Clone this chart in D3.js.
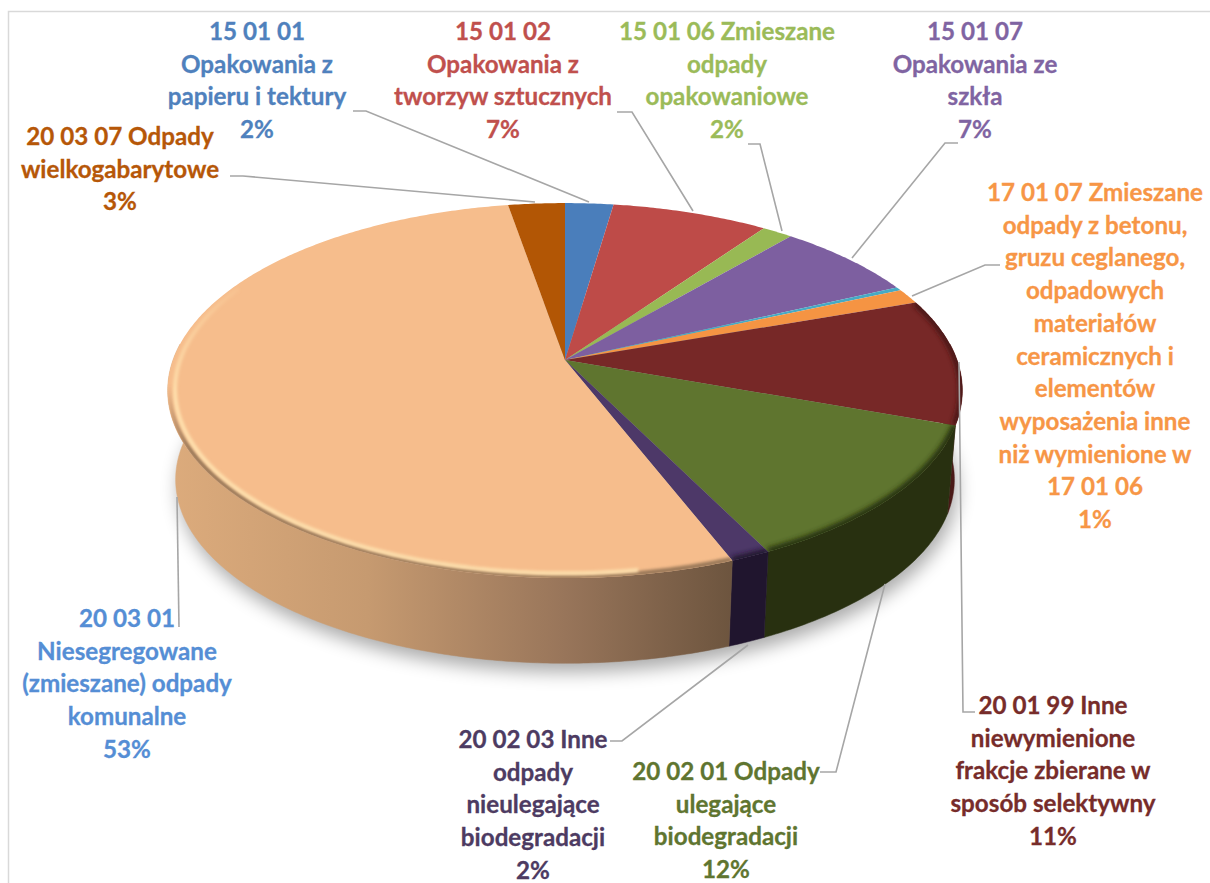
<!DOCTYPE html>
<html><head><meta charset="utf-8">
<script src="https://cdn.jsdelivr.net/npm/d3@7/dist/d3.min.js"></script>
<style>html,body{margin:0;padding:0;background:#fff}svg{display:block}</style>
</head><body><svg id="c" width="1210" height="883"></svg>
<script>
// Data
const codes = ["15 01 01","15 01 02","15 01 06","15 01 07","15 01 08","17 01 07","20 01 99","20 02 01","20 02 03","20 03 01","20 03 07"];
const shares = [2.3,7.45,1.46,6.8,0.3,1.3,10.9,12.2,1.4,53.2,2.7];
const topColors = ["#4a7ebb","#be4b48","#98b954","#7d5fa0","#46aac4","#f59443","#772827","#5f752f","#4d3868","#f6bd8c","#b25605"];
const wallColors = ["#2c4a70","#71302e","#5a6f31","#4a3860","#2a6575","#8f5627","#4a1917","#283010","#20152e","url(#tanWall)","#6a3303"];

// Label texts
const labelLines = [
 ["15 01 01","Opakowania z","papieru i tektury","2%"],
 ["15 01 02","Opakowania z","tworzyw sztucznych","7%"],
 ["15 01 06 Zmieszane","odpady","opakowaniowe","2%"],
 ["15 01 07","Opakowania ze","szkła","7%"],
 ["17 01 07 Zmieszane","odpady z betonu,","gruzu ceglanego,","odpadowych","materiałów","ceramicznych i","elementów","wyposażenia inne","niż wymienione w","17 01 06","1%"],
 ["20 01 99 Inne","niewymienione","frakcje zbierane w","sposób selektywny","11%"],
 ["20 02 01 Odpady","ulegające","biodegradacji","12%"],
 ["20 02 03 Inne","odpady","nieulegające","biodegradacji","2%"],
 ["20 03 01","Niesegregowane","(zmieszane) odpady","komunalne","53%"],
 ["20 03 07 Odpady","wielkogabarytowe","3%"]
];
const labelColors = ["#4f81bd","#c0504d","#9bbb59","#8064a2","#f79646","#772c2a","#5f7530","#4d3b62","#558ed5","#b65708"];

// Layout (not data)
const labelX = [257,503,727,975,1095,1053,726,533,127,120];
const labelY = [40,40,40,40,201,714,780,748,627,145];
const lineH = 32.7;
const leaders = [
 [[353,111],[366,111],[589,202]],
 [[617,112],[632,112],[693,211]],
 [[748,144],[760,144],[782,231]],
 [[958,143],[945,143],[852,258]],
 [[1000,265],[985,265],[912,296]],
 [[975,712],[963,712],[959,362]],
 [[820,772],[836,772],[885,584]],
 [[610,741],[622,741],[748,645]],
 [[179,627],[177,497]],
 [[230,176],[243,176],[535,202]]
];
const G = {cx:565, cy:360, rx:392, ry:182.5, k:0.163, depth:89, shrink:0.98, midY:390};

const svg = d3.select("#c");
const defs = svg.append("defs");
const grad = defs.append("linearGradient").attr("id","tanWall").attr("gradientUnits","userSpaceOnUse")
  .attr("x1",170).attr("x2",735).attr("y1",0).attr("y2",0);
[[0,"#dcab7c"],[0.35,"#c69a70"],[0.7,"#98755a"],[1,"#6c543e"]].forEach(s=>grad.append("stop").attr("offset",s[0]).attr("stop-color",s[1]));
const fade = defs.append("linearGradient").attr("id","hiFade").attr("gradientUnits","userSpaceOnUse")
  .attr("x1",0).attr("x2",0).attr("y1",270).attr("y2",400);
[[0,"#ffe1ae",0],[1,"#ffe1ae",1]].forEach(s=>fade.append("stop").attr("offset",s[0]).attr("stop-color",s[1]).attr("stop-opacity",s[2]));
const fadeDark = defs.append("linearGradient").attr("id","loFade").attr("gradientUnits","userSpaceOnUse")
  .attr("x1",0).attr("x2",0).attr("y1",385).attr("y2",450);
[[0,"#9a7858",0],[1,"#9a7858",1]].forEach(s=>fadeDark.append("stop").attr("offset",s[0]).attr("stop-color",s[1]).attr("stop-opacity",s[2]));
[["b1",1.5],["b2",2.5],["b3",9]].forEach(([id,s])=>defs.append("filter").attr("id",id)
  .attr("filterUnits","userSpaceOnUse").attr("x",0).attr("y",0).attr("width",1210).attr("height",883)
  .append("feGaussianBlur").attr("stdDeviation",s));

svg.append("rect").attr("x",8.5).attr("y",11.5).attr("width",1300).attr("height",1000)
  .attr("fill","#fff").attr("stroke","#d9d9d9").attr("stroke-width",1.5);

function rim(a,r=1){
  const u=r*Math.sin(a), v=-r*Math.cos(a), s=1/(1-G.k*v);
  return [G.cx+G.rx*u*s, G.cy+G.ry*v*s];
}
function bot(a){
  const p=rim(a);
  return [G.cx+(p[0]-G.cx)*G.shrink, G.midY+G.depth+(p[1]-G.midY)*G.shrink];
}
const line=d3.line();
const samples=(a0,a1)=>{const n=Math.max(2,Math.ceil((a1-a0)/0.01));return d3.range(n+1).map(i=>a0+(a1-a0)*i/n);};

const arcs=d3.pie().sort(null).value(d=>d)(shares);
const deg=Math.PI/180, wallFrom=85*deg, wallTo=275*deg;

// soft drop shadow beneath the disc
svg.append("path").attr("d",line(samples(0,2*Math.PI).map(a=>{const p=bot(a);return [p[0]+3,p[1]+9];}))+"Z")
  .attr("fill","#000").attr("opacity",0.33).attr("filter","url(#b3)");

// side walls
svg.append("g").selectAll("path").data(arcs.filter(d=>d.endAngle>wallFrom&&d.startAngle<wallTo)).join("path")
  .attr("d",d=>{
    const s=samples(Math.max(d.startAngle,wallFrom),Math.min(d.endAngle,wallTo));
    return line(s.map(a=>rim(a)).concat(s.slice().reverse().map(bot)))+"Z";
  })
  .attr("fill",d=>wallColors[d.index]).attr("stroke",d=>wallColors[d.index]).attr("stroke-width",0.5);

// top surfaces
const sector=d=>line([rim(0,0)].concat(samples(d.startAngle,d.endAngle).map(a=>rim(a))))+"Z";
arcs.forEach(d=>defs.append("clipPath").attr("id","s"+d.index).append("path").attr("d",sector(d)));
svg.append("g").selectAll("path").data(arcs).join("path")
  .attr("d",sector).attr("fill",d=>topColors[d.index]);

// bevel on the rim
const bevel=svg.append("g");
arcs.filter(d=>d.index>=6&&d.index<=8).forEach(d=>{
  bevel.append("g").attr("clip-path",`url(#s${d.index})`).append("path")
    .attr("d",line(samples(d.startAngle,d.endAngle).map(a=>rim(a,1))))
    .attr("fill","none").attr("stroke",wallColors[d.index]).attr("stroke-width",8).attr("filter","url(#b2)");
});
const tan=arcs[9];
const tg=bevel.append("g").attr("clip-path","url(#s9)");
tg.append("path").attr("d",line(samples(tan.startAngle,262*deg).map(a=>rim(a,0.995))))
  .attr("fill","none").attr("stroke","url(#loFade)").attr("stroke-width",5).attr("filter","url(#b1)");
tg.append("path").attr("d",line(samples(tan.startAngle+12*deg,295*deg).map(a=>rim(a,0.982))))
  .attr("fill","none").attr("stroke","url(#hiFade)").attr("stroke-width",4).attr("filter","url(#b1)");

// leader lines
svg.append("g").selectAll("path").data(leaders).join("path")
  .attr("d",d=>line(d)).attr("fill","none").attr("stroke","#a6a6a6").attr("stroke-width",1.6);

// labels
const lab=svg.append("g").attr("font-family","Lato, sans-serif").attr("font-weight",700).attr("font-size",24.2)
  .attr("text-anchor","middle")
  .selectAll("text").data(labelLines).join("text")
  .attr("fill",(d,i)=>labelColors[i]).attr("stroke",(d,i)=>labelColors[i]).attr("stroke-width",0.3);
lab.each(function(d,i){
  d3.select(this).selectAll("tspan").data(d).join("tspan")
    .attr("x",labelX[i]).attr("y",(t,j)=>labelY[i]+j*lineH).text(t=>t);
});
</script></body></html>
